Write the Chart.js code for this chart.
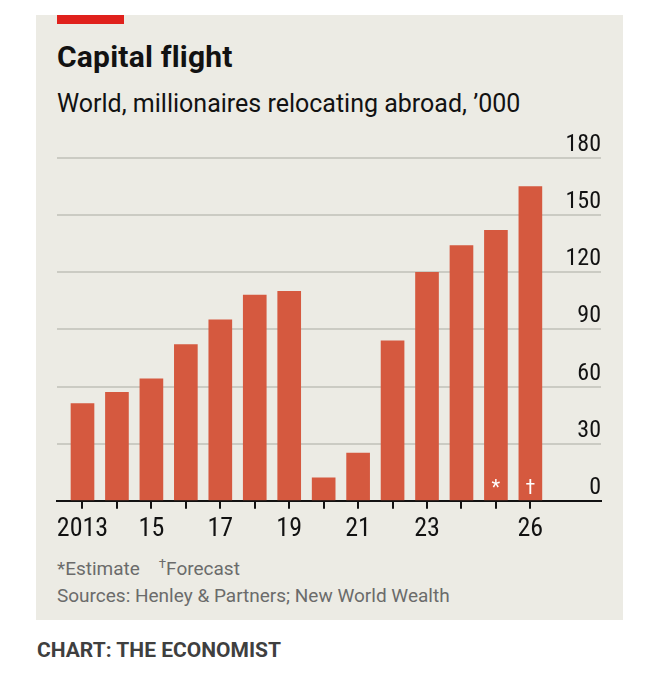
<!DOCTYPE html>
<html>
<head>
<meta charset="utf-8">
<script src="https://cdn.jsdelivr.net/npm/chart.js@4.4.1/dist/chart.umd.min.js"></script>
<style>
  body { margin: 0; background: #fff; font-family: Roboto, "Liberation Sans", sans-serif; }
  #panel { position: absolute; left: 36px; top: 15px; width: 587px; height: 605px; background: #ecebe4; }
  #redbar { position: absolute; left: 57px; top: 15px; width: 67px; height: 9px; background: #e0211c; }
  .txt { position: absolute; left: 57px; white-space: nowrap; }
  #title { top: 39px; font-size: 30px; font-weight: bold; color: #121212; letter-spacing: 0.2px; }
  #subtitle { top: 89px; font-size: 25px; color: #121212; }
  #notes { top: 556px; font-size: 19px; color: #6b6b6b; }
  #source { top: 584px; font-size: 19px; color: #6b6b6b; }
  #credit { left: 37px; top: 638px; font-size: 21px; font-weight: bold; color: #3f3f3f; }
  #wrap { position: absolute; left: 36px; top: 130px; width: 587px; height: 420px; }
</style>
</head>
<body>
<div id="panel"></div>
<div id="redbar"></div>
<div class="txt" id="title">Capital flight</div>
<div class="txt" id="subtitle">World, millionaires relocating abroad, ’000</div>
<div id="wrap"><canvas id="chart"></canvas></div>
<div class="txt" id="notes">*Estimate&nbsp;&nbsp;&nbsp;&nbsp;<sup style="font-size:0.7em">†</sup>Forecast</div>
<div class="txt" id="source">Sources: Henley &amp; Partners; New World Wealth</div>
<div class="txt" id="credit">CHART: THE ECONOMIST</div>
<script>
const years = [2013, 2014, 2015, 2016, 2017, 2018, 2019, 2020, 2021, 2022, 2023, 2024, 2025, 2026];
const millionaires = [51, 57, 64, 82, 95, 108, 110, 12, 25, 84, 120, 134, 142, 165];
const yearLabels = { 2013: "2013", 2015: "15", 2017: "17", 2019: "19", 2021: "21", 2023: "23", 2026: "26" };
const barMarks = { 2025: "*", 2026: "†" };

const FONT = '"Liberation Sans Narrow", "Roboto Condensed", "DejaVu Sans Condensed", sans-serif';

// little white signs inside the estimate / forecast bars
const markPlugin = {
  id: "marks",
  afterDatasetsDraw(chart) {
    const { ctx, scales } = chart;
    ctx.save();
    ctx.fillStyle = "#ffffff";
    ctx.font = "20px " + FONT;
    ctx.textAlign = "center";
    ctx.textBaseline = "middle";
    Object.keys(barMarks).forEach((yr) => {
      const x = scales.x.getPixelForValue(Number(yr));
      const y = scales.y.getPixelForValue(0) - 12;
      ctx.fillText(barMarks[yr], x, y);
    });
    ctx.restore();
  },
};

new Chart(document.getElementById("chart"), {
  type: "bar",
  data: {
    datasets: [
      {
        data: years.map((yr, i) => ({ x: yr, y: millionaires[i] })),
        backgroundColor: "#d5593f",
        barThickness: 23,
      },
    ],
  },
  options: {
    responsive: true,
    maintainAspectRatio: false,
    animation: false,
    layout: { padding: { left: 21, right: 22, top: 28, bottom: 0 } },
    plugins: { legend: { display: false }, tooltip: { enabled: false } },
    scales: {
      x: {
        type: "linear",
        offset: false,
        min: 2012.26,
        max: 2028.05,
        grid: {
          offset: false,
          drawOnChartArea: false,
          drawTicks: true,
          tickLength: 8,
          lineWidth: 2,
          tickColor: (c) => (c.tick && c.tick.value <= 2026 ? "#121212" : "rgba(0,0,0,0)"),
        },
        border: { display: true, color: "#121212", width: 2 },
        ticks: {
          stepSize: 1,
          includeBounds: false,
          autoSkip: false,
          maxRotation: 0,
          padding: 5,
          color: "#121212",
          font: { family: FONT, size: 26 },
          callback: (v) => yearLabels[v] || "",
        },
      },
      y: {
        position: "right",
        min: 0,
        max: 180,
        grid: {
          drawTicks: false,
          lineWidth: 2,
          color: (c) => (c.tick && c.tick.value === 0 ? "rgba(0,0,0,0)" : "#cbcbc3"),
        },
        border: { display: false },
        ticks: {
          stepSize: 30,
          mirror: true,
          padding: 0,
          labelOffset: -13,
          color: "#121212",
          font: { family: FONT, size: 24 },
        },
      },
    },
  },
  plugins: [markPlugin],
});
</script>
</body>
</html>
